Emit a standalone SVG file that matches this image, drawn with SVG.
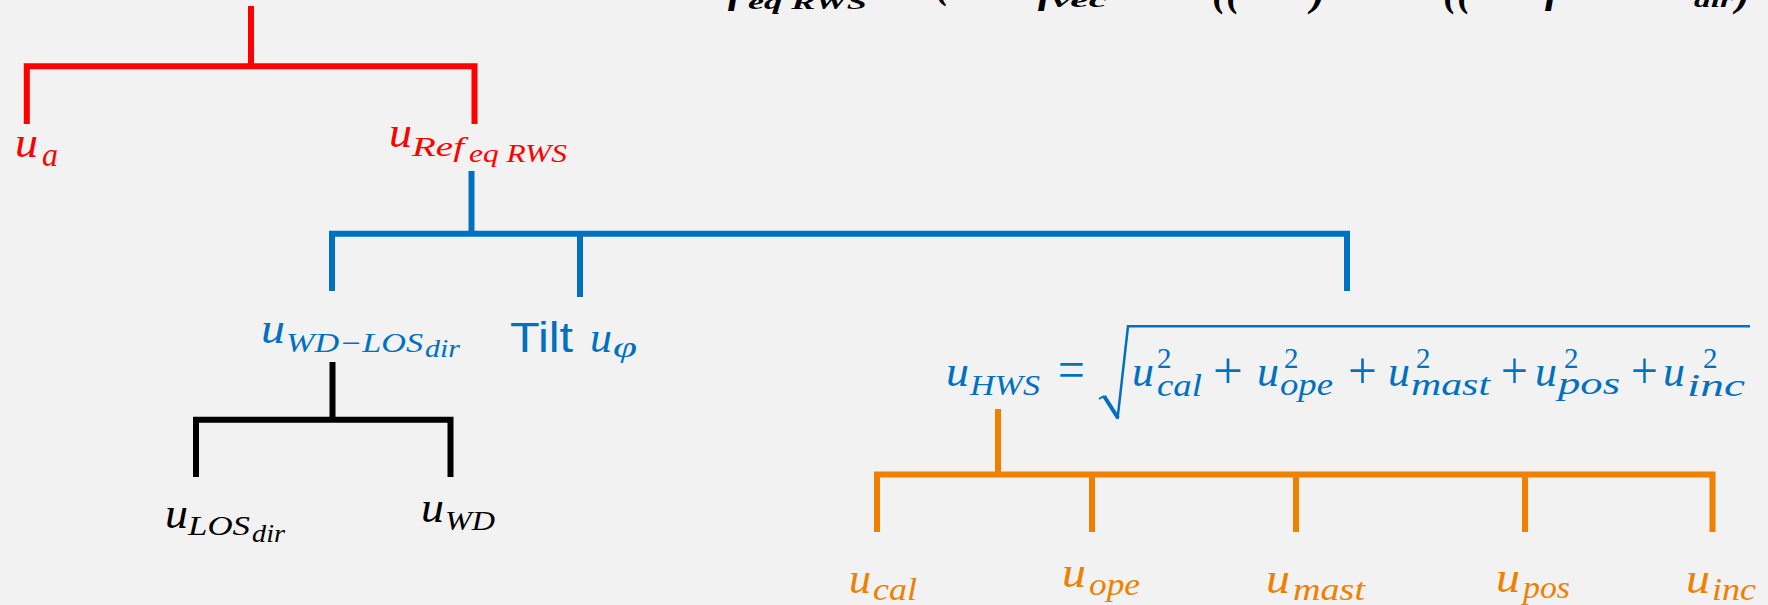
<svg xmlns="http://www.w3.org/2000/svg" width="1768" height="605" viewBox="0 0 1768 605">
<style>
.m{font-family:"Liberation Serif","Times New Roman",serif;font-style:italic}
.n{font-family:"Liberation Serif","Times New Roman",serif;font-style:normal}
.sans{font-family:"Liberation Sans",Arial,sans-serif}
.bi{font-family:"Liberation Serif","Times New Roman",serif;font-style:italic;font-weight:bold;fill:#000}
.r{fill:#FF0000}.b{fill:#0070C0}.k{fill:#000}.o{fill:#F08000}
.ln{fill:none;stroke-width:6;stroke-linejoin:miter;stroke-linecap:butt}
.rad{fill:none;stroke:#0070C0;stroke-linecap:butt;stroke-linejoin:miter}
.u{font-size:44px}
.sq{font-size:29px}
.op{font-size:52px}
</style>
<rect width="1768" height="605" fill="#F2F2F2"/>

<g id="top-formula">
<text class="bi" x="728" y="2" font-size="44">f</text>
<text class="bi" x="748" y="9" font-size="22" textLength="119" lengthAdjust="spacingAndGlyphs">eq RWS</text>
<text class="bi" x="935" y="-3" font-size="44">(</text>
<text class="bi" x="1038" y="2" font-size="44">f</text>
<text class="bi" x="1052" y="7" font-size="22" textLength="55" lengthAdjust="spacingAndGlyphs">vec</text>
<text class="bi" x="1212" y="5" font-size="44" textLength="28" lengthAdjust="spacingAndGlyphs">((</text>
<text class="bi" x="1311" y="5" font-size="44">)</text>
<text class="bi" x="1443" y="5" font-size="44" textLength="28" lengthAdjust="spacingAndGlyphs">((</text>
<text class="bi" x="1545" y="2" font-size="44">f</text>
<text class="bi" x="1694" y="7" font-size="22" textLength="39" lengthAdjust="spacingAndGlyphs">dir</text>
<text class="bi" x="1736" y="5" font-size="44">)</text>
</g>

<g id="connectors">
<path class="ln" stroke="#FF0000" d="M251,6V66.3 M26.8,124V66.3H474.5V124"/>
<path class="ln" stroke="#0070C0" d="M471.5,171V233.7 M332,291V233.7H1347V291 M580,233.7V297"/>
<path class="ln" stroke="#000000" d="M332.5,362V419.7 M196,477V419.7H450.5V477"/>
<path class="ln" stroke="#F08000" d="M998,409V474.5 M877,532V474.5H1712.5V532 M1092,474.5V532 M1296,474.5V532 M1525,474.5V532"/>
</g>

<g id="node-ua" class="m r">
<text class="u" x="15" y="157" textLength="23" lengthAdjust="spacingAndGlyphs">u</text>
<text x="42" y="166" font-size="34" textLength="16" lengthAdjust="spacingAndGlyphs">a</text>
</g>

<g id="node-uref" class="m r">
<text class="u" x="389" y="147" textLength="23" lengthAdjust="spacingAndGlyphs">u</text>
<text x="412" y="156" font-size="27" textLength="52" lengthAdjust="spacingAndGlyphs">Ref</text>
<text x="469" y="162" font-size="25" textLength="98" lengthAdjust="spacingAndGlyphs">eq RWS</text>
</g>

<g id="node-uwdlos" class="m b">
<text class="u" x="261" y="343" textLength="24" lengthAdjust="spacingAndGlyphs">u</text>
<text x="286" y="352" font-size="27" textLength="137" lengthAdjust="spacingAndGlyphs">WD−LOS</text>
<text x="425" y="357" font-size="25" textLength="35" lengthAdjust="spacingAndGlyphs">dir</text>
</g>

<g id="node-tilt" class="b">
<text class="sans" x="510" y="352" font-size="42" textLength="63" lengthAdjust="spacingAndGlyphs">Tilt</text>
<text class="m u" x="590" y="352" textLength="22" lengthAdjust="spacingAndGlyphs">u</text>
<text class="m" x="613" y="357" font-size="30" textLength="24" lengthAdjust="spacingAndGlyphs">φ</text>
</g>

<g id="node-uhws" class="m b">
<text class="u" x="946" y="386" textLength="23" lengthAdjust="spacingAndGlyphs">u</text>
<text x="970" y="395" font-size="30" textLength="70" lengthAdjust="spacingAndGlyphs">HWS</text>
<text class="n" x="1058" y="388" font-size="54" textLength="27" lengthAdjust="spacingAndGlyphs">=</text>
<path class="rad" stroke-width="2" d="M1099,399L1104,396"/>
<path class="rad" stroke-width="4" d="M1104,396L1118,418"/>
<path class="rad" stroke-width="2.5" d="M1117.5,419L1128,326.3H1750"/>

<text class="u" x="1132" y="386" textLength="22" lengthAdjust="spacingAndGlyphs">u</text>
<text class="n sq" x="1157" y="368">2</text>
<text x="1157" y="396" font-size="32" textLength="45" lengthAdjust="spacingAndGlyphs">cal</text>
<text class="n op" x="1213" y="388" textLength="30" lengthAdjust="spacingAndGlyphs">+</text>

<text class="u" x="1257" y="386" textLength="22" lengthAdjust="spacingAndGlyphs">u</text>
<text class="n sq" x="1284" y="368">2</text>
<text x="1280" y="395" font-size="32" textLength="53" lengthAdjust="spacingAndGlyphs">ope</text>
<text class="n op" x="1348" y="388" textLength="29" lengthAdjust="spacingAndGlyphs">+</text>

<text class="u" x="1388" y="386" textLength="22" lengthAdjust="spacingAndGlyphs">u</text>
<text class="n sq" x="1416" y="368">2</text>
<text x="1411" y="395" font-size="32" textLength="79" lengthAdjust="spacingAndGlyphs">mast</text>
<text class="n op" x="1501" y="388" textLength="27" lengthAdjust="spacingAndGlyphs">+</text>

<text class="u" x="1535" y="386" textLength="22" lengthAdjust="spacingAndGlyphs">u</text>
<text class="n sq" x="1564" y="368">2</text>
<text x="1558" y="394" font-size="32" textLength="62" lengthAdjust="spacingAndGlyphs">pos</text>
<text class="n op" x="1631" y="388" textLength="27" lengthAdjust="spacingAndGlyphs">+</text>

<text class="u" x="1663" y="386" textLength="22" lengthAdjust="spacingAndGlyphs">u</text>
<text class="n sq" x="1703" y="368">2</text>
<text x="1687" y="396" font-size="32" textLength="58" lengthAdjust="spacingAndGlyphs">inc</text>
</g>

<g id="node-ulos" class="m k">
<text class="u" x="165" y="528" textLength="23" lengthAdjust="spacingAndGlyphs">u</text>
<text x="188" y="535" font-size="28" textLength="62" lengthAdjust="spacingAndGlyphs">LOS</text>
<text x="252" y="542" font-size="25" textLength="33" lengthAdjust="spacingAndGlyphs">dir</text>
</g>

<g id="node-uwd" class="m k">
<text class="u" x="421" y="522" textLength="23" lengthAdjust="spacingAndGlyphs">u</text>
<text x="445" y="530" font-size="28" textLength="50" lengthAdjust="spacingAndGlyphs">WD</text>
</g>

<g id="node-ucal" class="m o">
<text class="u" x="849" y="593" textLength="22" lengthAdjust="spacingAndGlyphs">u</text>
<text x="873" y="600" font-size="31" textLength="44" lengthAdjust="spacingAndGlyphs">cal</text>
</g>
<g id="node-uope" class="m o">
<text class="u" x="1062" y="587" textLength="24" lengthAdjust="spacingAndGlyphs">u</text>
<text x="1089" y="595" font-size="31" textLength="51" lengthAdjust="spacingAndGlyphs">ope</text>
</g>
<g id="node-umast" class="m o">
<text class="u" x="1266" y="593" textLength="24" lengthAdjust="spacingAndGlyphs">u</text>
<text x="1293" y="600" font-size="31" textLength="72" lengthAdjust="spacingAndGlyphs">mast</text>
</g>
<g id="node-upos" class="m o">
<text class="u" x="1496" y="592" textLength="24" lengthAdjust="spacingAndGlyphs">u</text>
<text x="1523" y="598" font-size="31" textLength="47" lengthAdjust="spacingAndGlyphs">pos</text>
</g>
<g id="node-uinc" class="m o">
<text class="u" x="1686" y="593" textLength="24" lengthAdjust="spacingAndGlyphs">u</text>
<text x="1712" y="600" font-size="31" textLength="44" lengthAdjust="spacingAndGlyphs">inc</text>
</g>
</svg>
